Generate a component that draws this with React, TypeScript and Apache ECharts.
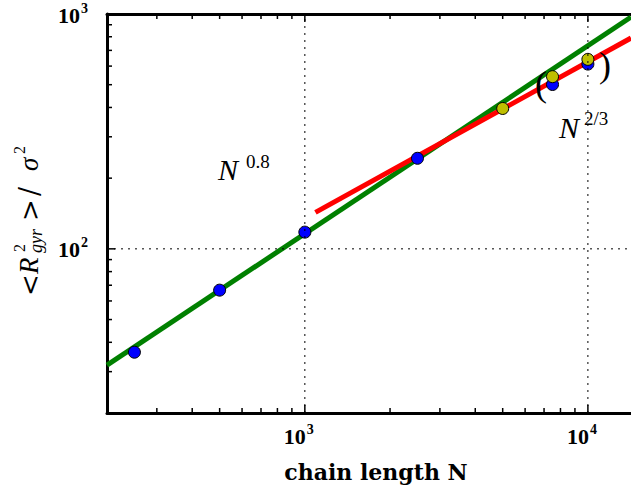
import React, { useEffect, useRef } from "react";
import * as echarts from "echarts";

// Axis extents (log scales)
const X_MIN = 200;
const X_MAX = 14200;
const Y_MIN = 20;
const Y_MAX = 1000;

// Simulation data: chain length N vs mean squared radius of gyration
const blueN = [250, 500, 1000, 2500, 7500, 10000];
const blueR = [36.3, 66.7, 117.8, 243, 501, 612];
const yellowN = [5000, 7500, 10000];
const yellowR = [396, 541, 641];

// Power-law guide lines (end points)
const fit08N = [200, 14200];
const fit08R = [32, 970];
const fit23N = [1090, 14200];
const fit23R = [143, 790];

// Tick positions
const xMajor = [1000, 10000];
const xMinor = [300, 400, 500, 600, 700, 800, 900, 2000, 3000, 4000, 5000, 6000, 7000, 8000, 9000];
const yMajor = [100, 1000];
const yMinor = [30, 40, 50, 60, 70, 80, 90, 200, 300, 400, 500, 600, 700, 800, 900];

const SERIF = "'Liberation Serif', 'DejaVu Serif', serif";
const BOLD_SERIF = "'DejaVu Serif', 'Liberation Serif', serif";
const TICK_FONT = "bold 22px 'Liberation Serif'";
const EXP_FONT = "bold 14px 'Liberation Serif'";

const exponent = (v: number) => String(Math.round(Math.log10(v)));

function App() {
  const ref = useRef<HTMLDivElement>(null);

  useEffect(() => {
    if (!ref.current) return;
    const chart = echarts.init(ref.current, undefined, { renderer: "svg" });

    const lineSeg = (x1: number, y1: number, x2: number, y2: number, w = 2) => ({
      type: "line",
      shape: { x1, y1, x2, y2 },
      style: { stroke: "#000", lineWidth: w },
    });

    const txt = (x: number, y: number, text: string, font: string, extra: any = {}) => ({
      type: "text",
      z: 10,
      style: { x, y, text, font, fill: "#000", verticalAlign: "middle", ...extra },
    });

    const plainAxis = {
      type: "log",
      logBase: 10,
      axisLine: { show: true, lineStyle: { color: "#000", width: 3 } },
      axisTick: { show: false },
      splitLine: { show: false },
      axisLabel: { show: false },
    };

    const option: any = {
      animation: false,
      backgroundColor: "#fff",
      grid: { left: 107, right: 0, top: 14, bottom: 78, containLabel: false },
      xAxis: [
        { ...plainAxis, min: X_MIN, max: X_MAX, position: "bottom" },
        { ...plainAxis, min: X_MIN, max: X_MAX, position: "top" },
      ],
      yAxis: { ...plainAxis, min: Y_MIN, max: Y_MAX },
      series: [
        {
          type: "line",
          data: fit08N.map((n, i) => [n, fit08R[i]]),
          showSymbol: false,
          lineStyle: { color: "#008000", width: 5 },
          z: 2,
        },
        {
          type: "line",
          data: fit23N.map((n, i) => [n, fit23R[i]]),
          showSymbol: false,
          lineStyle: { color: "#ff0000", width: 5 },
          z: 2,
        },
        {
          type: "scatter",
          data: blueN.map((n, i) => [n, blueR[i]]),
          symbolSize: 12,
          itemStyle: { color: "#0000ff", borderColor: "#000", borderWidth: 1, opacity: 1 },
          z: 3,
        },
        {
          type: "scatter",
          data: yellowN.map((n, i) => [n, yellowR[i]]),
          symbolSize: 12,
          itemStyle: { color: "#bfbf00", borderColor: "#000", borderWidth: 1, opacity: 1 },
          z: 4,
        },
        // x decades: dotted grid line and major ticks
        {
          type: "custom",
          clip: false,
          silent: true,
          z: 6,
          data: xMajor.map((v) => [v, Y_MIN]),
          renderItem: (_p: any, api: any) => {
            const v = api.value(0);
            const a = api.coord([v, Y_MIN]);
            const b = api.coord([v, Y_MAX]);
            return {
              type: "group",
              children: [
                {
                  type: "line",
                  shape: { x1: a[0], y1: a[1], x2: b[0], y2: b[1] },
                  style: { stroke: "#000", lineWidth: 1, lineDash: [2, 5] },
                },
                lineSeg(a[0], a[1], a[0], a[1] - 8, 1.5),
                lineSeg(b[0], b[1], b[0], b[1] + 8, 1.5),
              ],
            };
          },
        },
        // y decades
        {
          type: "custom",
          clip: false,
          silent: true,
          z: 6,
          data: yMajor.map((v) => [X_MIN, v]),
          renderItem: (_p: any, api: any) => {
            const v = api.value(1);
            const a = api.coord([X_MIN, v]);
            const b = api.coord([X_MAX, v]);
            return {
              type: "group",
              children: [
                {
                  type: "line",
                  shape: { x1: a[0], y1: a[1], x2: b[0], y2: b[1] },
                  style: { stroke: "#000", lineWidth: 1, lineDash: [2, 5] },
                },
                lineSeg(a[0], a[1], a[0] + 8, a[1], 1.5),
              ],
            };
          },
        },
        // minor ticks
        {
          type: "custom",
          clip: false,
          silent: true,
          z: 6,
          data: xMinor.map((v) => [v, Y_MIN]),
          renderItem: (_p: any, api: any) => {
            const a = api.coord([api.value(0), Y_MIN]);
            const b = api.coord([api.value(0), Y_MAX]);
            return {
              type: "group",
              children: [
                lineSeg(a[0], a[1], a[0], a[1] - 5, 1.5),
                lineSeg(b[0], b[1], b[0], b[1] + 5, 1.5),
              ],
            };
          },
        },
        {
          type: "custom",
          clip: false,
          silent: true,
          z: 6,
          data: yMinor.map((v) => [X_MIN, v]),
          renderItem: (_p: any, api: any) => {
            const a = api.coord([X_MIN, api.value(1)]);
            return lineSeg(a[0], a[1], a[0] + 5, a[1], 1.5);
          },
        },
      ],
      graphic: [
        // exponent annotations
        txt(218, 169, "N", `italic 30px ${SERIF}`),
        txt(246, 161, "0.8", `19px ${SERIF}`),
        txt(559, 127, "N", `italic 30px ${SERIF}`),
        txt(584, 118, "2/3", `19px ${SERIF}`),
        txt(535, 84, "(", `36px ${SERIF}`),
        txt(599, 65, ")", `36px ${SERIF}`),
        // x-axis title
        txt(376, 472, "chain length N", `bold 22px ${BOLD_SERIF}`, { align: "center" }),
        // y-axis title, rotated to read upwards
        {
          type: "group",
          x: 37,
          y: 297,
          rotation: Math.PI / 2,
          children: [
            txt(1, -7, "<", `26px 'DejaVu Serif'`),
            txt(23, -8, "R", `italic 27px ${SERIF}`),
            txt(45, -18, "2", `16px ${SERIF}`),
            txt(44, -1, "gyr", `italic 18px ${SERIF}`),
            txt(76, -7, ">", `26px 'DejaVu Serif'`),
            txt(101, -8, "/", `27px 'DejaVu Serif'`),
            txt(126, -8, "σ", `italic 27px ${SERIF}`),
            txt(143, -18, "2", `16px ${SERIF}`),
          ],
        },
      ],
    };

    chart.setOption(option);

    // power-of-ten tick labels, placed at the axes' own pixel positions
    const finder = { xAxisIndex: 0, yAxisIndex: 0 };
    const tickLabels: any[] = [];
    xMajor.forEach((v) => {
      const p = chart.convertToPixel(finder, [v, Y_MIN]) as number[];
      tickLabels.push(txt(p[0] + 1, p[1] + 23, "10", TICK_FONT, { align: "right" }));
      tickLabels.push(txt(p[0] + 2, p[1] + 16, exponent(v), EXP_FONT));
    });
    yMajor.forEach((v) => {
      const p = chart.convertToPixel(finder, [X_MIN, v]) as number[];
      tickLabels.push(txt(p[0] - 27, p[1] + 1, "10", TICK_FONT, { align: "right" }));
      tickLabels.push(txt(p[0] - 26, p[1] - 6, exponent(v), EXP_FONT));
    });
    chart.setOption({ graphic: [...option.graphic, ...tickLabels] });

    return () => chart.dispose();
  }, []);

  return (
    <div
      ref={ref}
      style={{ position: "absolute", left: 0, top: 0, width: 631, height: 491 }}
    />
  );
}

export default App;
